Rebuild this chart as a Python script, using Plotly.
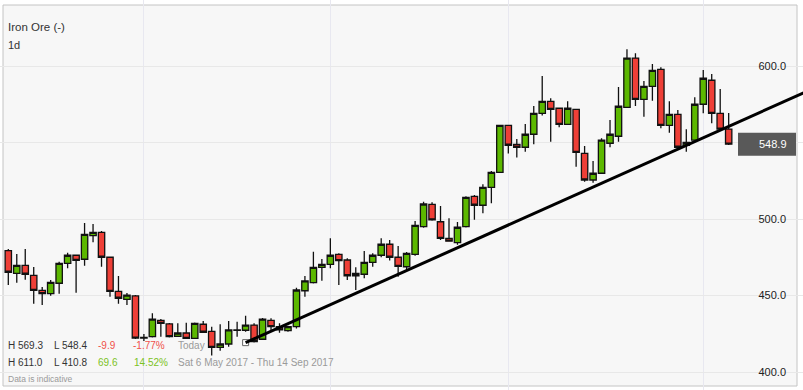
import plotly.graph_objects as go

W, H = 803, 390

# ---- data (Iron Ore, daily candles) ----
opens = [479.3, 464.5, 469.7, 463.2, 453.4, 451.2, 458.0, 471.0, 476.3, 473.7,
         489.1, 491.3, 475.0, 452.7, 447.5, 449.7, 422.2, 423.1, 433.8, 431.4,
         423.3, 425.5, 422.0, 431.2, 426.6, 416.1, 418.3, 427.5, 427.3, 430.7,
         421.4, 433.8, 429.6, 427.0, 429.6, 453.1, 458.4, 468.4, 470.4, 476.9,
         473.2, 462.9, 463.9, 471.7, 476.3, 483.5, 475.0, 468.8, 476.9, 495.0,
         509.6, 498.2, 487.4, 484.6, 495.0, 514.8, 509.0, 520.7, 530.5, 561.2,
         548.8, 546.9, 555.4, 569.1, 576.9, 572.4, 561.9, 571.7, 542.9, 525.5,
         529.9, 549.5, 554.1, 573.0, 605.2, 578.2, 586.7, 597.8, 561.2, 568.4,
         548.2, 551.6, 575.0, 590.7, 569.1, 558.8]
highs = [480.4, 477.1, 480.4, 468.6, 455.6, 460.1, 472.1, 478.0, 476.5, 497.4,
         496.7, 492.2, 475.3, 462.7, 451.6, 450.3, 424.8, 438.4, 434.6, 432.0,
         431.8, 432.2, 432.3, 433.3, 429.6, 431.2, 433.3, 432.9, 436.8, 431.8,
         435.3, 435.1, 431.8, 430.3, 455.1, 462.7, 478.6, 473.9, 487.4, 477.6,
         474.3, 468.4, 479.1, 477.6, 487.4, 486.3, 482.4, 478.4, 498.7, 511.3,
         510.9, 508.5, 500.5, 498.0, 514.8, 515.7, 522.7, 531.4, 561.4, 561.4,
         552.3, 562.1, 573.9, 593.5, 578.9, 572.8, 576.9, 572.0, 547.7, 537.9,
         552.8, 564.7, 586.3, 611.0, 608.3, 590.2, 601.3, 599.2, 576.9, 571.2,
         558.6, 579.5, 597.4, 594.8, 585.0, 569.3]
lows = [456.9, 458.4, 460.3, 444.6, 443.8, 449.9, 451.2, 467.8, 451.8, 469.5,
        484.8, 468.8, 449.2, 444.6, 443.8, 421.5, 420.3, 422.5, 423.1, 422.5,
        423.0, 421.6, 421.6, 425.5, 410.8, 413.9, 416.5, 423.1, 426.3, 419.3,
        420.9, 427.5, 425.7, 426.3, 428.5, 449.2, 457.9, 459.7, 467.8, 456.9,
        460.1, 453.6, 461.2, 468.8, 475.0, 472.8, 462.3, 466.7, 476.0, 494.3,
        498.8, 486.3, 485.2, 483.2, 494.5, 499.5, 503.7, 510.3, 530.4, 542.8,
        540.2, 544.0, 548.8, 567.6, 550.5, 559.9, 561.5, 534.2, 524.4, 523.7,
        529.5, 546.9, 550.5, 572.7, 573.9, 566.9, 577.3, 559.3, 556.4, 546.5,
        544.0, 551.2, 569.1, 562.6, 558.3, 548.4]
closes = [465.2, 469.7, 463.9, 453.4, 451.2, 458.6, 471.0, 476.3, 473.0, 490.0,
          491.3, 475.0, 452.7, 448.2, 450.3, 422.2, 422.6, 434.5, 431.8, 423.1,
          425.5, 422.0, 431.8, 426.0, 416.1, 418.3, 427.5, 427.3, 430.7, 419.8,
          434.5, 429.7, 427.5, 429.6, 453.6, 459.5, 468.4, 470.4, 476.3, 472.8,
          462.9, 464.5, 471.7, 476.3, 483.5, 475.0, 469.1, 477.6, 495.9, 509.8,
          499.4, 487.3, 485.5, 494.6, 514.2, 509.0, 520.7, 530.5, 561.2, 548.2,
          546.9, 555.4, 569.1, 576.9, 571.7, 561.9, 572.4, 543.6, 525.5, 529.9,
          551.6, 555.4, 573.7, 605.2, 578.2, 586.7, 597.2, 561.2, 568.4, 546.9,
          550.1, 575.0, 592.0, 569.1, 558.8, 548.9]

month_starts = [16, 38, 59, 82]          # first candle of Jun, Jul, Aug, Sep
y_ticks = [400, 450, 500, 550, 600]
trend_x0, trend_y0, trend_slope = 28, 419.2, 2.48   # drawn trend line
date_range_text = "Sat 6 May 2017 - Thu 14 Sep 2017"

x = list(range(len(opens)))

FONT = "Liberation Sans, Arial, sans-serif"
RED_TXT = "#f0504a"
GREEN_TXT = "#7cc21e"
GREY_TXT = "#9a9a9a"
DARK_TXT = "#333333"

fig = go.Figure()
fig.add_trace(go.Candlestick(
    x=x, open=opens, high=highs, low=lows, close=closes,
    increasing=dict(fillcolor="#5cb800", line=dict(color="#111111", width=1.3)),
    decreasing=dict(fillcolor="#ee3f37", line=dict(color="#111111", width=1.3)),
    whiskerwidth=0, showlegend=False, hoverinfo="skip",
))
# start handle of the trend line
fig.add_trace(go.Scatter(
    x=[trend_x0], y=[trend_y0], mode="markers", showlegend=False, hoverinfo="skip",
    marker=dict(symbol="square", size=6, color="white", line=dict(color="#666666", width=1)),
))

x_end = 100
shapes = [
    # chart frame
    dict(type="rect", xref="paper", yref="paper", layer="below",
         x0=3 / W, x1=797 / W, y0=1 - 386 / H, y1=1 - 5 / H,
         fillcolor="#f7f7f7", line=dict(color="#c4c4c4", width=1)),
    # trend line
    dict(type="line", xref="x", yref="y", layer="above",
         x0=trend_x0, y0=trend_y0, x1=x_end, y1=trend_y0 + trend_slope * (x_end - trend_x0),
         line=dict(color="#000000", width=3)),
    # last price box
    dict(type="rect", xref="paper", yref="y", layer="above",
         x0=738 / W, x1=796 / W, y0=closes[-1] - 7.5, y1=closes[-1] + 7.5,
         fillcolor="#595959", line=dict(width=0)),
]

last_h, last_l = highs[-1], lows[-1]
chg = closes[-1] - closes[-2]
pct = chg / closes[-2] * 100
per_h, per_l = max(highs), min(lows)
per_chg = closes[-1] - opens[0]
per_pct = per_chg / opens[0] * 100


def ann(text, px, py, color=DARK_TXT, size=10, anchor="left", yref="paper"):
    return dict(text=text, x=px / W, xref="paper", y=(1 - py / H) if yref == "paper" else py,
                yref=yref, xanchor=anchor, yanchor="middle", showarrow=False,
                font=dict(color=color, size=size, family=FONT), borderpad=0)


annotations = [
    ann("Iron Ore (-)", 7, 27, size=11.5),
    ann("1d", 7, 45, size=11),
    ann(f"H {last_h:.1f}", 7, 345.5),
    ann(f"L {last_l:.1f}", 53, 345.5),
    ann(f"{chg:.1f}", 97, 345.5, color=RED_TXT),
    ann(f"{pct:.2f}%", 132, 345.5, color=RED_TXT),
    ann("Today", 177, 345.5, color=GREY_TXT),
    ann(f"H {per_h:.1f}", 7, 362.5),
    ann(f"L {per_l:.1f}", 53, 362.5),
    ann(f"{per_chg:.1f}", 97, 362.5, color=GREEN_TXT),
    ann(f"{per_pct:.2f}%", 133, 362.5, color=GREEN_TXT),
    ann(date_range_text, 177, 362.5, color=GREY_TXT),
    ann("Data is indicative", 7, 378.5, color=GREY_TXT, size=8.5),
    ann(f"{closes[-1]:.1f}", 788, closes[-1], color="white", size=11, anchor="right", yref="y"),
]

fig.update_layout(
    width=W, height=H,
    margin=dict(l=0, r=0, t=0, b=0, pad=0),
    paper_bgcolor="white", plot_bgcolor="white",
    font=dict(family=FONT, size=11, color=DARK_TXT),
    showlegend=False, hovermode=False,
    boxgap=0.25, boxgroupgap=0,
    shapes=shapes, annotations=annotations,
    xaxis=dict(range=[-0.979, 93.77], tickvals=month_starts, showticklabels=False,
               showgrid=True, gridcolor="#e8e8f0", gridwidth=1, zeroline=False,
               showline=False, ticks="", rangeslider=dict(visible=False), fixedrange=True),
    yaxis=dict(range=[388.24, 643.14], side="right", tickvals=y_ticks,
               ticktext=[f"{v:.1f}" for v in y_ticks], ticklabelposition="inside",
               ticklabelstandoff=14, ticks="", showgrid=True, gridcolor="#e8e8e8",
               gridwidth=1, zeroline=False, showline=False,
               tickfont=dict(size=11, color="#222222", family=FONT), fixedrange=True),
)

fig.write_html("out.html")
